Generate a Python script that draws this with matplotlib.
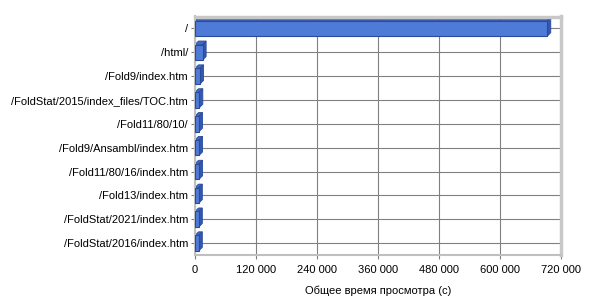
import numpy as np
import matplotlib.pyplot as plt
from matplotlib.patches import Polygon

pages = ['/', '/html/', '/Fold9/index.htm', '/FoldStat/2015/index_files/TOC.htm',
         '/Fold11/80/10/', '/Fold9/Ansambl/index.htm', '/Fold11/80/16/index.htm',
         '/Fold13/index.htm', '/FoldStat/2021/index.htm', '/FoldStat/2016/index.htm']
seconds = [693000, 15000, 10000, 8500, 8000, 8000, 8000, 7500, 7500, 7500]
xticks = [0, 120000, 240000, 360000, 480000, 600000, 720000]
xlabels = ['0', '120 000', '240 000', '360 000', '480 000', '600 000', '720 000']

plt.rcParams['font.family'] = ['Liberation Sans', 'DejaVu Sans']

fig = plt.figure(figsize=(6, 3), dpi=100)
ax = fig.add_axes([0.325, 0.15, 0.61, 0.795])

y = np.arange(len(pages))
h = 0.65
ax.set_ylim(len(pages) - 0.5, -0.5)
ax.set_xlim(0, 720000)

ax.barh(y, seconds, height=h, color='#4F7BD8', edgecolor='#2A4A9A', linewidth=0.8, zorder=3)

# fake 3d depth for the bars, shifted a few pixels up-right
shift = np.array([3.5, 3.5])
trans = ax.transData
inv = trans.inverted()
for yi, v in zip(y, seconds):
    ya, yb = yi - h / 2, yi + h / 2
    p1 = trans.transform([(v, ya), (v, yb)])
    sidepts = np.array([p1[0], p1[1], p1[1] + shift, p1[0] + shift])
    p2 = trans.transform([(0, ya), (v, ya)])
    toppts = np.array([p2[0], p2[1], p2[1] + shift, p2[0] + shift])
    ax.add_patch(Polygon(inv.transform(toppts), closed=True, facecolor='#4169C8',
                         edgecolor='#2A4A9A', linewidth=0.6, zorder=2))
    ax.add_patch(Polygon(inv.transform(sidepts), closed=True, facecolor='#3457B0',
                         edgecolor='#2A4A9A', linewidth=0.6, zorder=2))

ax.set_yticks(y)
ax.set_yticklabels(pages, fontsize=8)
ax.set_xticks(xticks)
ax.set_xticklabels(xlabels, fontsize=8)
ax.set_xlabel('Общее время просмотра (с)', fontsize=8, labelpad=8)
ax.grid(axis='both', color='#808080', linewidth=0.8, zorder=0)
ax.set_axisbelow(True)
ax.tick_params(axis='y', length=3, color='#808080', pad=2)
ax.tick_params(axis='x', length=3, color='#808080', pad=4)
for s in ['top', 'right']:
    ax.spines[s].set_color('#C8C8C8')
    ax.spines[s].set_linewidth(2.5)
for s in ['left', 'bottom']:
    ax.spines[s].set_color('#C0C0C0')
    ax.spines[s].set_linewidth(1.5)

fig.savefig('out.png', dpi=100)
